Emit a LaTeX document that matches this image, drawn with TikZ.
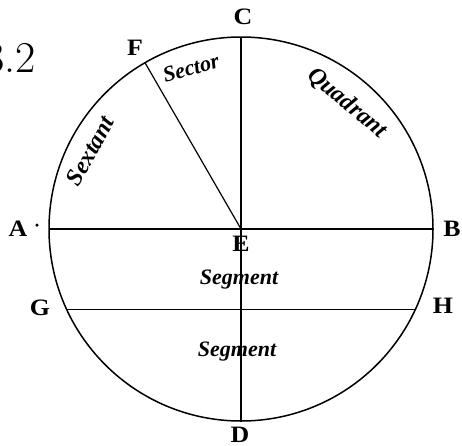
\documentclass[tikz,border=0pt]{standalone}
\usepackage{fontspec}
\newfontfamily\lettfont{Liberation Serif}
\begin{document}
\begin{tikzpicture}[x=1pt,y=-1pt,
  letter/.style={font=\lettfont\fontsize{23.5}{25}\selectfont\bfseries, inner sep=0pt, xscale=1.1},
  lab/.style={font=\lettfont\fontsize{22}{24}\selectfont\bfseries\itshape, inner sep=0pt},
  biglab/.style={lab, font=\lettfont\fontsize{24}{26}\selectfont\bfseries\itshape},
  rim/.style={line width=1.5pt},
  ln/.style={line width=1.2pt}]
\useasboundingbox (0,0) rectangle (462,445);
\coordinate (E) at (241,229);
\coordinate (C) at (241,37);
\coordinate (D) at (241,421);
\coordinate (A) at (49,229);
\coordinate (B) at (433,229);
\coordinate (G) at (66.7,309.5);
\coordinate (H) at (415.3,309.5);
\coordinate (F) at (145,62.7);
\draw[rim] (E) circle[radius=192];
\draw[ln] (C) -- (D);
\draw[ln] (A) -- (B);
\draw[ln] (G) -- (H);
\draw[ln] (E) -- (F);
\node[letter] (lC) at (243,17) {C};
\node[letter] (lF) at (135,48) {F};
\node[letter] (lA) at (18,229) {A};
\node[circle, fill, inner sep=0pt, minimum size=3.5pt] (dotA) at (37,225) {};
\node[letter] (lB) at (452,229) {B};
\node[letter] (lE) at (241,244) {E};
\node[letter] (lG) at (40,308) {G};
\node[letter] (lH) at (443,306) {H};
\node[letter] (lD) at (240,435) {D};
\node[font=\fontsize{44}{48}\selectfont, inner sep=0pt, anchor=base east] (fig) at (36,72) {3.2};
\node[lab, rotate=16] (sector) at (191,68) {Sector};
\node[biglab, rotate=-40] (quad) at (347,103) {Quadrant};
\node[biglab, rotate=61] (sext) at (90,151) {Sextant};
\node[lab] (seg1) at (239,280) {Segment};
\node[lab] (seg2) at (237,352) {Segment};
\end{tikzpicture}
\end{document}
